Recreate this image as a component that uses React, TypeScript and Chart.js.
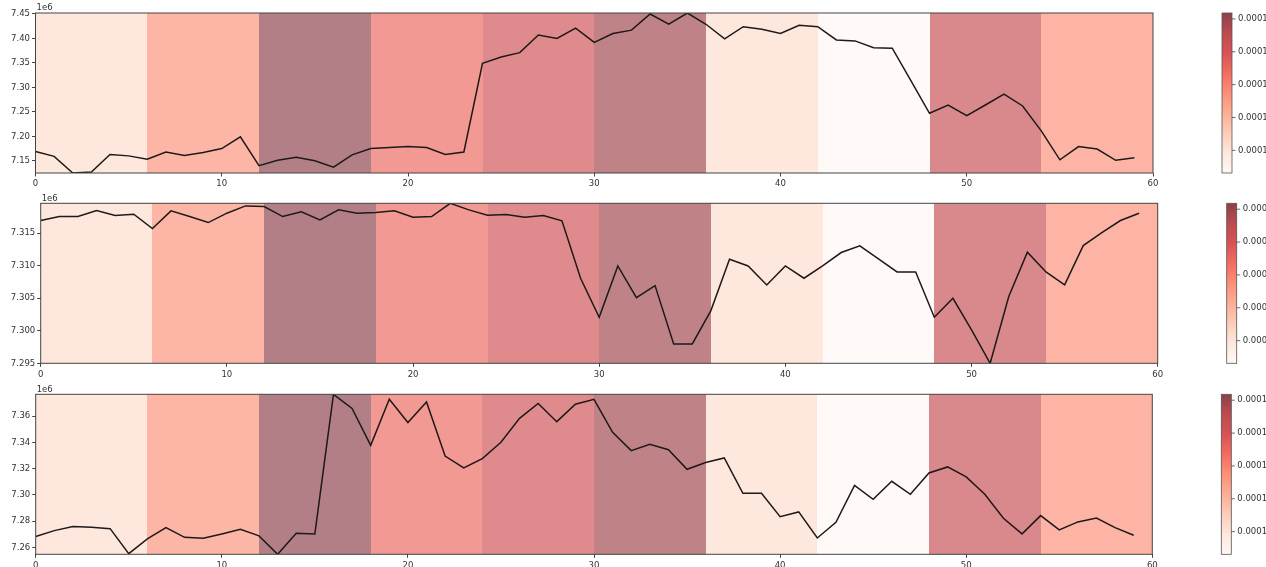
import React, { useEffect, useRef } from "react";
import { Chart, registerables } from "chart.js";

Chart.register(...registerables);

// ---------- data ----------
const xIndex = [
  0, 1, 2, 3, 4, 5, 6, 7, 8, 9, 10, 11, 12, 13, 14, 15, 16, 17, 18, 19,
  20, 21, 22, 23, 24, 25, 26, 27, 28, 29, 30, 31, 32, 33, 34, 35, 36, 37, 38, 39,
  40, 41, 42, 43, 44, 45, 46, 47, 48, 49, 50, 51, 52, 53, 54, 55, 56, 57, 58, 59,
];

// values in units of 1e6
const seriesTop = [
  7.169, 7.159, 7.125, 7.127, 7.163, 7.16, 7.153, 7.168, 7.161, 7.167,
  7.175, 7.199, 7.14, 7.151, 7.157, 7.15, 7.137, 7.162, 7.175, 7.177,
  7.179, 7.177, 7.163, 7.168, 7.349, 7.362, 7.371, 7.407, 7.4, 7.421,
  7.392, 7.41, 7.417, 7.45, 7.429, 7.452, 7.429, 7.399, 7.424, 7.419,
  7.41, 7.427, 7.424, 7.397, 7.395, 7.381, 7.38, 7.314, 7.247, 7.264,
  7.242, 7.264, 7.286, 7.262, 7.211, 7.152, 7.179, 7.174, 7.151, 7.156,
];

const seriesMid = [
  7.31695, 7.31756, 7.31756, 7.31849, 7.31772, 7.31792, 7.31572, 7.31844, 7.31756, 7.31664,
  7.31808, 7.3192, 7.3191, 7.31756, 7.31828, 7.31705, 7.31859, 7.31808, 7.31818, 7.31844,
  7.31746, 7.31756, 7.3196, 7.31859, 7.31777, 7.31787, 7.31746, 7.31772, 7.3169, 7.30808,
  7.30208, 7.30997, 7.3051, 7.30695, 7.29797, 7.29797, 7.3031, 7.311, 7.30997, 7.30705,
  7.30997, 7.30808, 7.30997, 7.31203, 7.31305, 7.31105, 7.30905, 7.30905, 7.30208, 7.305,
  7.30013, 7.295, 7.30526, 7.31208, 7.30905, 7.30705, 7.3131, 7.3151, 7.31695, 7.31808,
];

const seriesBottom = [
  7.2684, 7.2729, 7.276, 7.2754, 7.2744, 7.2554, 7.2666, 7.2752, 7.2678, 7.2671,
  7.2704, 7.2739, 7.2689, 7.2549, 7.2709, 7.2704, 7.3765, 7.3658, 7.3377, 7.3727,
  7.355, 7.3706, 7.3296, 7.3205, 7.3276, 7.34, 7.3582, 7.3696, 7.3557, 7.3689,
  7.3727, 7.3476, 7.3337, 7.3385, 7.3344, 7.3195, 7.3246, 7.3281, 7.3013, 7.3013,
  7.2835, 7.2871, 7.2673, 7.2792, 7.3073, 7.2967, 7.3104, 7.3005, 7.3167, 7.3213,
  7.3137, 7.3005, 7.2823, 7.2704, 7.2843, 7.2734, 7.2795, 7.2825, 7.2752, 7.2694,
];

// background bands: edges on x and a value per band (shown through the colorbar)
const bandEdges = [0, 6, 12, 18, 24, 30, 36, 42, 48, 54, 60];
const bandValues = [
  0.0001119, 0.000127, 0.0001518, 0.0001348, 0.0001416,
  0.0001494, 0.0001119, 0.0001031, 0.0001435, 0.0001275,
];

const xTicks = [0, 10, 20, 30, 40, 50, 60];
const yTicksTop = [7.15, 7.2, 7.25, 7.3, 7.35, 7.4, 7.45];
const yTicksMid = [7.295, 7.3, 7.305, 7.31, 7.315];
const yTicksBottom = [7.26, 7.28, 7.3, 7.32, 7.34, 7.36];
const colorbarTicks = [0.00011, 0.00012, 0.00013, 0.00014, 0.00015];
const offsetLabel = "1e6";

// ---------- style helpers ----------
const REDS = [
  [255, 245, 240],
  [254, 224, 210],
  [252, 187, 161],
  [252, 146, 114],
  [251, 106, 74],
  [239, 59, 44],
  [203, 24, 29],
  [165, 15, 21],
  [103, 0, 13],
];

function reds(t: number, alpha: number): string {
  const tt = Math.max(0, Math.min(1, t)) * (REDS.length - 1);
  const i = Math.min(REDS.length - 2, Math.floor(tt));
  const f = tt - i;
  const c = REDS[i].map((v, k) => v + (REDS[i + 1][k] - v) * f);
  return `rgba(${c[0].toFixed(1)},${c[1].toFixed(1)},${c[2].toFixed(1)},${alpha})`;
}

const vmin = Math.min(...bandValues);
const vmax = Math.max(...bandValues);
const norm = (v: number) => (v - vmin) / (vmax - vmin);

const FONT = "DejaVu Sans";
const FONT_SIZE = 8.5;
const TEXT = "#333";
const AXIS = "#444";

const decorPlugin = {
  id: "decor",
  beforeDatasetsDraw(chart: any) {
    const { ctx, chartArea: a, scales } = chart;
    const x = scales.x;
    ctx.save();
    for (let i = 0; i < bandValues.length; i++) {
      const x0 = Math.round(x.getPixelForValue(bandEdges[i]));
      const x1 = Math.round(x.getPixelForValue(bandEdges[i + 1]));
      ctx.fillStyle = reds(norm(bandValues[i]), 0.5);
      ctx.fillRect(x0, a.top, x1 - x0, a.bottom - a.top);
    }
    ctx.restore();
  },
  afterDraw(chart: any) {
    const { ctx, chartArea: a } = chart;
    ctx.save();
    // frame (spines)
    ctx.strokeStyle = AXIS;
    ctx.lineWidth = 1;
    ctx.strokeRect(a.left, a.top, a.right - a.left, a.bottom - a.top);
    // offset label
    ctx.fillStyle = TEXT;
    ctx.font = `${FONT_SIZE}px "${FONT}"`;
    ctx.textAlign = "left";
    ctx.textBaseline = "bottom";
    ctx.fillText(offsetLabel, a.left + 1, a.top - 0.5);

    // colorbar
    const cx = a.right + 69;
    const cw = 10;
    const top = a.top;
    const bottom = a.bottom;
    const h = bottom - top;
    const grad = ctx.createLinearGradient(0, bottom, 0, top);
    for (let k = 0; k < REDS.length; k++) {
      const t = k / (REDS.length - 1);
      grad.addColorStop(t, reds(t, 0.75));
    }
    ctx.fillStyle = "#fff";
    ctx.fillRect(cx, top, cw, h);
    ctx.fillStyle = grad;
    ctx.fillRect(cx, top, cw, h);
    ctx.strokeStyle = "#555";
    ctx.lineWidth = 0.8;
    ctx.strokeRect(cx, top, cw, h);
    ctx.textBaseline = "middle";
    ctx.fillStyle = TEXT;
    for (const v of colorbarTicks) {
      const y = bottom - norm(v) * h;
      ctx.beginPath();
      ctx.moveTo(cx + cw, y);
      ctx.lineTo(cx + cw + 3.5, y);
      ctx.strokeStyle = AXIS;
      ctx.stroke();
      ctx.fillText(v.toFixed(5), cx + cw + 6, y);
    }
    ctx.restore();
  },
};

type PanelCfg = {
  top: number;
  height: number;
  left: number;
  right: number;
  areaTop: number;
  areaBottom: number;
  series: number[];
  yTicks: number[];
  decimals: number;
};

const panels: PanelCfg[] = [
  { top: 0, height: 190, left: 35.5, right: 1153, areaTop: 13, areaBottom: 173, series: seriesTop, yTicks: yTicksTop, decimals: 2 },
  { top: 190, height: 190, left: 40.7, right: 1157.7, areaTop: 13.3, areaBottom: 173.3, series: seriesMid, yTicks: yTicksMid, decimals: 3 },
  { top: 380, height: 187, left: 35.7, right: 1152.3, areaTop: 14.3, areaBottom: 174.3, series: seriesBottom, yTicks: yTicksBottom, decimals: 2 },
];

const W = 1266;

function Panel({ cfg }: { cfg: PanelCfg }) {
  const ref = useRef<HTMLCanvasElement | null>(null);
  useEffect(() => {
    if (!ref.current) return;
    const tickFont = { family: FONT, size: FONT_SIZE };
    const grid = {
      display: true,
      drawOnChartArea: false,
      drawTicks: true,
      tickLength: 3.5,
      color: AXIS,
      lineWidth: 1,
    };
    const chart = new Chart(ref.current, {
      type: "line",
      data: {
        datasets: [
          {
            data: cfg.series.map((y, i) => ({ x: xIndex[i], y })),
            borderColor: "#1e1a1a",
            borderWidth: 1.5,
            pointRadius: 0,
            tension: 0,
            fill: false,
          },
        ],
      },
      options: {
        responsive: false,
        animation: false,
        devicePixelRatio: 1,
        layout: {
          padding: { left: 0, right: W - cfg.right, top: cfg.areaTop, bottom: 0 },
        },
        plugins: { legend: { display: false }, tooltip: { enabled: false }, title: { display: false } },
        scales: {
          x: {
            type: "linear",
            min: 0,
            max: 60,
            grid,
            border: { display: false },
            ticks: {
              font: tickFont,
              color: TEXT,
              padding: 2.5,
              maxRotation: 0,
              callback: (v: any) => String(v),
            },
            afterBuildTicks: (s: any) => {
              s.ticks = xTicks.map((v) => ({ value: v }));
            },
            afterFit: (s: any) => {
              s.height = cfg.height - cfg.areaBottom;
            },
          },
          y: {
            type: "linear",
            min: Math.min(...cfg.series),
            max: Math.max(...cfg.series),
            grid,
            border: { display: false },
            ticks: {
              font: tickFont,
              color: TEXT,
              padding: 2,
              callback: (v: any) => Number(v).toFixed(cfg.decimals),
            },
            afterBuildTicks: (s: any) => {
              s.ticks = cfg.yTicks.map((v) => ({ value: v }));
            },
            afterFit: (s: any) => {
              s.width = cfg.left;
            },
          },
        },
      },
      plugins: [decorPlugin],
    } as any);
    return () => chart.destroy();
  }, [cfg]);
  return (
    <canvas
      ref={ref}
      width={W}
      height={cfg.height}
      style={{ position: "absolute", left: 0, top: cfg.top, width: W, height: cfg.height }}
    />
  );
}

export default function App() {
  return (
    <div
      style={{
        position: "absolute",
        left: 0,
        top: 0,
        width: W,
        height: 567,
        background: "#fff",
        overflow: "hidden",
      }}
    >
      {panels.map((p, i) => (
        <Panel key={i} cfg={p} />
      ))}
    </div>
  );
}
